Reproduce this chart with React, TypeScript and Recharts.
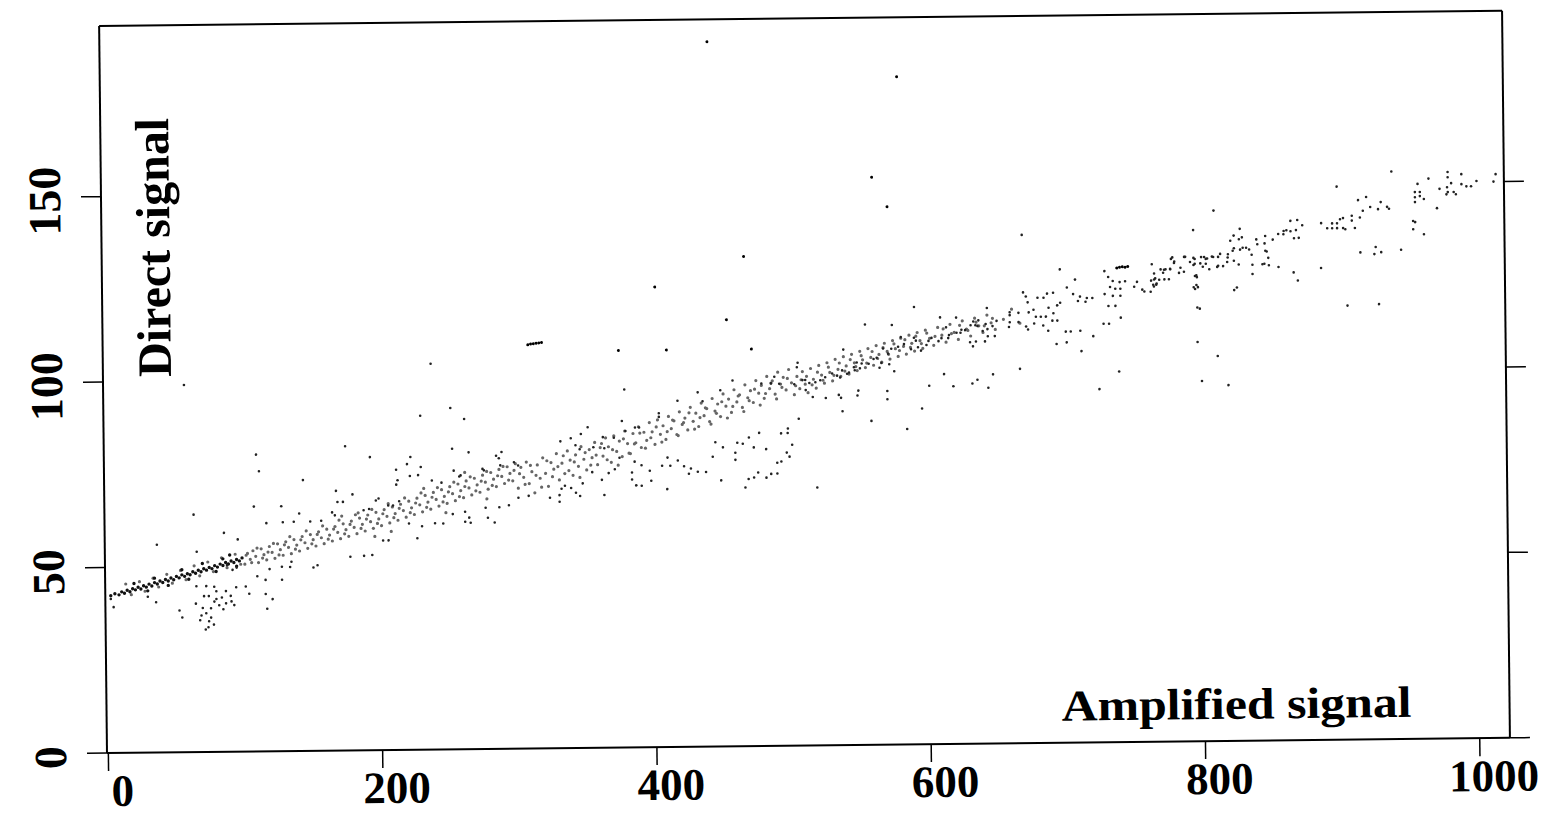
import React from 'react';
import { ScatterChart, Scatter, XAxis, YAxis } from 'recharts';

const xTicks = [0, 200, 400, 600, 800, 1000];
const yTicks = [0, 50, 100, 150];
const xTitle = 'Amplified signal';
const yTitle = 'Direct signal';

// dense dark trace near the origin
const bandA: [number, number][] = [
  [3,42.4],[6,42.9],[9,42.6],[11,43.4],[13,43.0],[15,43.8],[17,43.4],[19,44.2],[21,43.9],[23,44.6],[25,44.1],[27,45.0],[29,44.6],[31,45.4],[33,44.9],[35,45.8],[37,45.4],[39,46.2],[41,45.8],[43,46.6],[45,46.2],[47,47.0],[49,46.5],[51,47.4],[53,47.0],[55,47.8],[57,47.4],[59,48.1],[61,47.8],[63,48.6],[65,48.2],[67,49.0],[69,48.6],[71,49.4],[73,49.0],[75,49.7],[77,49.4],[79,50.2],[81,49.8],[83,50.6],[85,50.2],[87,51.0],[89,50.6],[91,51.4],[93,51.0],[95,51.8],[97,51.4],[99,52.2],
  [20,45.6],[35,47.0],[55,49.2],[70,50.8],[85,52.0],[90,53.0],[30,43.6],[45,45.0],[60,46.6],[80,48.6],[95,50.0],
];

// halftone around the dark trace
const bandA2: [number, number][] = [
  [14,45.5],[18,42.6],[24,46.1],[28,43.5],[34,47.0],[38,44.6],[44,48.0],[48,45.6],[54,49.0],[58,46.5],[64,50.2],[68,47.5],[74,51.2],[78,48.6],[84,52.3],[88,49.6],[94,53.2],[98,50.5],
];

// halftone band 100-300
const bandB: [number, number][] = [
  [101,50.5],[103,53.4],[105,51.8],[107,54.1],[109,52.6],[111,50.9],[113,54.6],[115,53.0],[117,51.6],[119,55.2],[121,53.6],[123,52.0],[125,55.9],[127,54.3],[129,52.8],[131,56.4],[133,54.9],[135,53.2],[137,57.0],[139,55.5],[141,53.9],[143,57.8],[145,56.1],[147,54.6],[149,58.3],[151,56.9],[153,55.2],[155,59.0],[157,57.4],[159,55.8],[161,59.7],[163,58.1],[165,56.5],[167,60.4],[169,58.8],[171,57.1],[173,61.1],[175,59.5],[177,57.7],[179,61.8],[181,60.1],[183,58.4],[185,62.6],[187,60.9],[189,59.1],[191,63.4],[193,61.6],[195,59.8],[197,64.1],[199,62.3],
  [201,60.5],[203,64.8],[205,63.0],[207,61.2],[209,65.5],[211,63.7],[213,61.9],[215,66.2],[217,64.5],[219,62.7],[221,67.0],[223,65.2],[225,63.4],[227,67.8],[229,66.0],[231,64.1],[233,68.5],[235,66.7],[237,64.8],[239,69.3],[241,67.4],[243,65.6],[245,70.0],[247,68.2],[249,66.3],[251,70.8],[253,68.9],[255,67.0],[257,71.5],[259,69.7],[261,67.8],[263,72.3],[265,70.4],[267,68.5],[269,73.0],[271,71.2],[273,69.2],[275,73.8],[277,71.9],[279,70.0],[281,74.5],[283,72.7],[285,70.7],[287,75.3],[289,73.4],[291,71.5],[293,76.0],[295,74.2],[297,72.2],[299,76.8],
  [172,63.2],[184,64.0],[196,57.6],[208,58.9],[232,70.4],[248,63.8],[262,74.6],[278,67.4],
];

const bandB2: [number, number][] = [
  [102,52.9],[106,50.9],[110,54.8],[114,52.1],[118,53.7],[122,56.0],[126,52.9],[130,55.6],[134,57.8],[138,54.4],[142,56.9],[146,59.3],[150,55.8],[154,58.3],[158,60.6],[162,57.0],[166,59.7],[170,62.1],[174,58.4],[178,60.9],[182,63.5],[186,59.8],[190,62.3],[194,64.9],[198,61.1],[202,63.7],[206,66.4],[210,62.6],[214,65.1],[218,67.9],[222,63.9],[226,66.5],[230,69.2],[234,65.3],[238,68.0],[242,70.6],[246,66.7],[250,69.4],[254,72.0],[258,68.1],[262,70.8],[266,73.4],[270,69.6],[274,72.2],[278,74.8],[282,71.0],[286,73.6],[290,76.1],[294,72.4],[298,75.0],
];

// halftone band 300-500
const bandC: [number, number][] = [
  [301,70.2],[303,75.8],[305,73.1],[307,77.2],[309,71.4],[311,74.6],[313,68.9],[315,76.4],[317,72.8],[319,78.3],[321,74.1],[323,70.6],[325,77.0],[327,75.2],[329,79.4],[331,72.3],[333,76.8],[335,74.0],[337,80.1],[339,77.6],[341,73.5],[343,79.0],[345,75.9],[347,81.2],[349,77.8],[351,74.9],[353,80.4],[355,78.2],[357,82.3],[359,76.3],[361,80.9],[363,78.6],[365,83.5],[367,81.1],[369,76.9],[371,84.0],[373,79.8],[375,82.6],[377,78.4],[379,85.3],[381,81.9],[383,79.2],[385,84.6],[387,82.1],[389,86.4],[391,80.8],[393,84.9],[395,82.7],[397,87.5],[399,85.0],
  [401,81.6],[403,88.2],[405,84.3],[407,86.6],[409,82.9],[411,89.1],[413,85.8],[415,87.9],[417,84.2],[419,90.3],[421,86.9],[423,88.6],[425,85.4],[427,91.5],[429,87.7],[431,89.9],[433,86.3],[435,92.6],[437,89.2],[439,91.1],[441,87.6],[443,93.8],[445,90.4],[447,92.3],[449,88.9],[451,95.0],[453,91.7],[455,93.6],[457,90.0],[459,96.1],[461,92.8],[463,94.7],[465,91.3],[467,97.4],[469,93.9],[471,95.8],[473,92.6],[475,98.5],[477,95.1],[479,97.2],[481,93.7],[483,99.6],[485,96.3],[487,98.4],[489,94.8],[491,100.7],[493,97.5],[495,99.3],[497,95.9],[499,101.4],
];

const bandC2: [number, number][] = [
  [302,74.1],[306,71.2],[310,76.3],[314,73.6],[318,70.4],[322,77.5],[326,73.2],[330,75.9],[334,78.8],[338,74.8],[342,77.1],[346,72.9],[350,79.6],[354,76.2],[358,78.9],[362,82.0],[366,77.6],[370,80.3],[374,76.1],[378,83.2],[382,79.3],[386,81.8],[390,84.7],[394,80.6],[398,83.4],[402,86.3],[406,82.2],[410,85.0],[414,88.1],[418,83.9],[422,87.4],[426,90.0],[430,85.6],[434,88.7],[438,91.3],[442,86.9],[446,89.8],[450,92.9],[454,88.5],[458,91.6],[462,94.4],[466,90.2],[470,93.1],[474,96.2],[478,91.9],[482,95.0],[486,97.8],[490,93.5],[494,96.6],[498,99.0],
];

// halftone band 500-670
const bandD: [number, number][] = [
  [501,97.8],[503,94.6],[505,99.5],[507,96.2],[509,100.8],[511,97.4],[513,95.1],[515,101.6],[517,98.7],[519,96.3],[521,102.4],[523,99.8],[525,97.6],[527,103.1],[529,100.5],[531,98.2],[533,104.0],[535,101.3],[537,99.4],[539,104.7],[541,102.2],[543,100.0],[545,105.3],[547,103.0],[549,100.9],[551,106.1],[553,103.8],[555,101.7],[557,106.8],[559,104.4],[561,102.3],[563,107.6],[565,105.2],[567,103.1],[569,108.2],[571,106.0],[573,103.9],[575,108.9],[577,106.7],[579,104.6],[581,109.5],[583,107.3],[585,105.2],[587,110.3],[589,108.1],[591,106.0],[593,111.0],[595,108.8],[597,106.7],[599,111.6],
  [602,109.4],[605,107.5],[608,112.3],[611,110.2],[614,108.3],[617,113.1],[620,110.9],[623,109.0],[626,114.0],[629,111.8],[632,109.9],[635,114.7],[638,112.6],[641,110.8],[644,115.5],[647,113.4],[650,111.6],[656,114.3],[662,117.0],[668,113.2],
];

const bandD2: [number, number][] = [
  [504,97.0],[508,98.6],[512,99.5],[516,97.2],[520,100.6],[524,98.4],[528,101.9],[532,99.7],[536,103.0],[540,100.8],[544,103.9],[548,102.0],[552,104.9],[556,102.9],[560,106.0],[564,104.1],[568,107.0],[572,105.2],[576,108.0],[580,106.2],[584,109.1],[588,107.0],[592,110.0],[596,108.0],[600,110.8],[606,109.9],[612,111.9],[618,110.6],[624,112.8],[630,111.4],[636,113.6],[642,112.6],[648,114.6],
];

// scattered readings below the band near the origin
const lowCluster: [number, number][] = [
  [3,41.5],[5,39.3],[30,42],[36,40.5],[53,38.2],[55,36.3],[65,40],[65.5,44.7],[71,42],[72.5,37.4],[72.7,44.7],[72,33],[74,33.6],[74.5,35.2],[74.5,42],[76,38.7],[78,34.3],[78.5,40.5],[78.5,44.5],[80,43.3],[82,39.5],[87,40],[87,43.3],[90.5,42],[91,40.5],[93,39.5],[94.5,44.3],[101.5,44.5],[104,42.5],[116,42.4],[117,38.4],[121,41],[116,46.2],[128,46.2],[110,47.2],[95,49.6],[88,50.3],[92,49],[119,49.1],[128,49.7],[134,49.6],[135,51],[151,49.4],[154,50],[178,52.2],[188,52.4],[194,52.6],[202,56.5],[206,56.5],[68,35.5],[70,38.8],[84,41.6],[69,36.8],[76,36.2],[80,41.2],[85,38.4],
];

// scattered readings above the band, 0-300
const upperScatter: [number, number][] = [
  [37,56],[64,64],[66,54],[86,59],[96,57.2],[108,66],[128,66],[117,61.5],[129,61.7],[137,61.8],[149,61.8],[157,62],[110,80],[112,75.5],[144,73],[193,79],[168,70],[180,69],[141,64],[165,64.2],[167,63.4],[169,67],[173,67],[175,82],[188,64.7],[192,65],[197,67.3],[199,67.8],[206,65.9],[209.5,65.9],[212,71.5],[212,75.5],[213,72.7],[214,67],[220,77],[222,73.8],[228,74],[222.5,78.9],[230,76.2],[238,72.5],[245,71.9],[253,81],[258,73.5],[254,75.1],[259,73.8],[265,80],[275,75.5],[276,75.1],[285,79],[289,80],[287,78.3],[288,76.4],[298,77.2],[301,76.3],[58,99],[230,90],[262,89],[252,92],[238,104],
];

// scattered readings 200-520
const midScatter: [number, number][] = [
  [227,57],[230.5,60.2],[221,61],[240,61],[246,60.9],[253,63.4],[262,61.3],[266,61],[265,62.4],[262,64],[277,65],[278.6,62.3],[283.5,61],[287,65.1],[294,65.6],[301,67.6],[308.5,68.1],[324,67.5],[331,66.4],[331,68.2],[335,70.7],[332.5,69.9],[339.5,70.1],[343,68.8],[346,67.9],[348,71.3],[355,74.3],[362,72.2],[363.7,68.1],[367,74],[371.5,75],[375,78.1],[384,74.1],[384,72.2],[386,77],[387,70.6],[391,70.5],[391,76],[397,74.5],[398,71.8],[406,75.8],[409.6,69.5],[410,78],[412,75.8],[417.5,77.2],[422,75.6],[425.5,73.6],[427,75],[432,74.1],[438,74],[443,78.1],[445,82],[449,71.7],[450.5,80.6],[459.5,79.1],[459.5,77.2],[461,81.8],[465,81.5],[466.6,69.7],[469,72],[469.5,83.2],[473,80.5],[473,72.4],[476,73.7],[477,84.4],[482,80],[482,72.3],[485.5,73.3],[490,73.4],[490,76.3],[493,84.2],[493,76.6],[497,79],[497.8,84.3],[498,85.5],[499,77.9],[501,81.1],[506,88.1],[519,69.5],
  [332,82.7],[339.6,83.5],[347,84.6],[352,86.4],[346,80.5],[343,81.6],[363,83.7],[371,83.5],[356,81],[364,80.7],[377,88],[379.5,85.3],[386.5,86.2],[389.5,86.2],[404,90],[404,89],[417.7,93.3],[432.5,95.5],[436,93.1],[449,96],[458,98.6],[479,97.7],[486,97.7],[488.5,99.5],[492,97.6],[503,97.4],[505,102],[505.6,103.2],[379,96.5],
];

// scattered readings 500-700
const rightScatter: [number, number][] = [
  [509,98.5],[511,98.5],[514,97.7],[518.4,97.9],[522,98.4],[525.6,99.2],[530.7,100.2],[534.3,99.6],[536.5,99.1],[538,101],[541.6,100.1],[543,100.4],[546.6,101.8],[547.2,101],[548.7,103.1],[551,101.5],[552.3,102.8],[557.4,102.7],[561,104],[563.3,104.3],[565.3,101.6],[566.7,102.9],[572.4,102.5],[576,100.6],[568,106.8],[571.6,105.4],[574,106.7],[579,107.2],[581,109.8],[583.3,107.9],[588.4,106.5],[590.6,109.6],[592,108.8],[593.5,107],[595.7,106.1],[590.9,117.9],[599.7,107.6],[601.2,108.7],[603.4,109.5],[608.5,108.6],[610.7,109.4],[614.1,112.3],[609.8,115],[615.6,109.4],[616.2,110.2],[621.5,114.9],[621.7,110.8],[624.6,110.8],[625.3,111.6],[628,111.5],[631.5,108.2],[632,112.8],[633.6,107.1],[634,113.8],[635.5,112.8],[635.8,108.4],[637,112.6],[637.7,114.1],[640.8,111.2],[642.4,108.4],[643,113.1],[644,117.4],[644.3,111.7],[644.5,109.8],[648,112.5],[649.6,109.8],[651,113.9],[660.6,116.2],[660.6,115.4],[660.6,113.5],[660,112.2],[667,116],[667,113.5],[670.5,121.5],[672.5,120.4],[673.8,118.8],[674.5,116.1],[672.5,112.3],[673.9,111.5],[678,116.8],[678.4,113.1],[679.7,114.9],[681,120],[683.3,114.9],[685,112.5],[685.4,120],[687,114.9],[688,121.1],[688.6,111.1],[689,117.3],[692.4,121.3],[692.5,115.8],[691.7,113.8],[695.3,117.9],[695.3,113.8],[694.6,107.5],[697.5,118.6],[697.5,127.6],[670,137],
  [511.3,95.8],[516.4,93.9],[525.9,93.6],[535.4,94.4],[537,93.6],[549.7,95.5],[549,94.2],[570.8,95.3],[570.8,93.1],[601.4,96.6],[612.3,99.7],[619,96.4],[632.9,97.1],[636.6,98.1],[644.5,95.9],[648,99.5],[667.7,100.9],[538,90],[559,87.3],[596,90.5],[585,85],
  [539,106.6],[555,113.3],[574.6,113.1],
];

// scattered readings 700-1020
const farScatter: [number, number][] = [
  [702,107.9],[701.4,110.8],[705,110.8],[702.5,122.7],[707,120.9],[708.5,124.8],[710.5,119],[712,120.2],[712,111],[712.7,105.5],[716,118.8],[717,119.8],[721,119.8],[721.4,109.5],[725.5,95.2],[729,112.8],[730,127],[730,120.8],[732.7,125.4],[732.7,117.6],[733,112.8],[734,122.7],[736,124.3],[736,120.3],[737.8,122.2],[737.8,117.6],[740,99.9],[741,124],[741.5,122.2],[741.5,120.3],[741.6,114.4],[745,124.2],[751.6,122.7],[753.7,124],[757.5,121.9],[759,121.4],[763.6,121.3],[764.6,128.7],[764,124.3],[765.5,123.2],[766,122.7],[766.2,126.2],[766.2,124.6],[767,124.9],[767.7,123.2],[768,123.5],[769.9,124.5],[771,127.3],[772.8,126.4],[773.5,127.2],[773.7,124.6],[774.6,127.3],[777,124.6],[777.9,127.4],[778,127.3],[778.6,130.1],[779.6,130.5],[780.8,129],[781,129.4],[784.4,126.3],[785.5,127.7],[788,126.6],[788.2,130.6],[789,130.6],[792.5,129.2],[795,130.3],[795,128.4],[795,137.8],[795.9,130],[795.9,128.7],[796,125.4],[796,121.9],[797,125.6],[795,122.4],[797,123],[797.4,125.1],[797.4,107.6],[797.5,116.9],[798.1,122.4],[799.3,116.6],[800,128.8],[800.3,97.1],[800.6,130.5],[801.8,127.9],[802.8,130.5],[804,130],[804,128.7],[805,130.1],[806.5,127.2],[808.5,130.6],[809.4,130.5],[810,143],[812,103.8],[812.3,127.8],[813,128.1],[813,130.5],[814.5,131.3],[816.6,128],[819.6,95.9],[819.6,129.1],[820,130.3],[820.2,131.2],[822,134.8],[823.7,132.1],[824.5,121.5],[824.5,136.2],[824.5,129.4],[824.6,132.8],[826.5,122.2],[828,128.4],[828.3,135.2],[829,138],[829.1,132.4],[830.5,135.7],[831,132.9],[833.5,132.9],[835.7,132.4],[837.5,131],[838,128.3],[838,125.8],[841,135.1],[841.7,133.8],[845.3,128.4],[846.7,128.5],[847,134],[847.5,136],[847.5,132],[848.5,131.8],[849.6,130.1],[850,128.1],[853,135],[857,136.5],[857,127.6],[860.8,136.4],[861,137.3],[863,137.5],[866,137.2],[866,140],[868,126.1],[868.5,135.3],[870,137.5],[871,140.2],[871,123.9],[872,135.4],[874.6,138.8],[888,127.2],[888.4,139.3],[892.8,137.9],[896.4,137.9],[896.4,139.2],[900,137.9],[900,139.2],[900,149.1],[902.2,140.3],[904.4,137.9],[904.4,140.6],[906,137.6],[907,117],[910.8,141.2],[910.8,139.9],[913,137.9],[915.5,145.4],[916.7,140.7],[916.8,131.3],[918.9,142.5],[921.4,146.2],[924.3,143.5],[927,130.8],[928,132.7],[930,142.9],[930,117.3],[932,144.8],[932,131.3],[936.6,143.5],[938,143],[940,153],[946.5,131.9],[955.5,139.6],[955.5,137.4],[957,139.3],[957,147.4],[957,146],[957,144.7],[959,149.6],[960.6,147.4],[960.6,146.3],[963.3,136],[963.5,145.5],[967,151],[973,143],[975,148.2],[980,146.7],[980.5,148.6],[981,152.7],[981,151.3],[981,147.3],[983.5,149.7],[985.3,147.3],[986.9,146.7],[991,152.1],[991,149.4],[994.6,148.8],[998,148.8],[1002,150.2],[1014.4,150],[1016,152],
];

// isolated outliers and the two dark dashes
const outliers: [number, number][] = [
  [442,190],[580,180],[561,153],[572,145],[467,132],[402,124],[375,107],[410,107],[472,107],[454,115],
  [309,108.8],[311,109],[313,109.1],[315,109.2],[317,109.3],[319,109.4],
  [739,127.8],[741,128],[743,128.1],[745,128],[747,128.2],
];

const toPts = (a: [number, number][]) => a.map(([x, y]) => ({ x, y }));

const FONT = "'Liberation Serif', 'Times New Roman', serif";

const XTick = (props: any) => {
  const { x, y, payload } = props;
  return (
    <text x={x + 14} y={y + 33} textAnchor="middle" fontFamily={FONT} fontWeight={700} fontSize={45} fill="#000">
      {payload.value}
    </text>
  );
};

const YTick = (props: any) => {
  const { x, y, payload } = props;
  return (
    <text transform={`translate(${x - 19},${y + 4}) rotate(-90)`} textAnchor="middle" fontFamily={FONT} fontWeight={700} fontSize={46} fill="#000">
      {payload.value}
    </text>
  );
};

const NoTick = () => <g />;

const makeDot = (r: number, fill: string) => (props: any) => (
  <circle cx={props.cx} cy={props.cy} r={r} fill={fill} />
);

const bandDot = makeDot(1.6, '#666');
const scatDot = makeDot(1.3, '#222');

export default function App() {
  return (
    <div style={{ position: 'absolute', left: 0, top: 0, width: 1557, height: 817, overflow: 'hidden', background: '#fff' }}>
      <div style={{ position: 'absolute', left: 0, top: 0, width: 1557, height: 817, transform: 'rotate(-0.62deg)', transformOrigin: '107px 753px' }}>
        <ScatterChart width={1557} height={817} margin={{ top: 25, right: 7, bottom: 4, left: 7 }}>
          <XAxis xAxisId="top" orientation="top" type="number" dataKey="x" domain={[-1, 1022]} height={1}
            tick={false} tickLine={false} axisLine={{ stroke: '#000', strokeWidth: 2 }} allowDataOverflow />
          <XAxis type="number" dataKey="x" domain={[-1, 1022]} ticks={xTicks} interval={0} height={60} tickSize={18}
            tick={<XTick />} tickLine={{ stroke: '#000', strokeWidth: 1.5 }} axisLine={{ stroke: '#000', strokeWidth: 2 }} allowDataOverflow />
          <YAxis type="number" dataKey="y" domain={[0, 196]} ticks={yTicks} interval={0} width={100} tickSize={20}
            tick={<YTick />} tickLine={{ stroke: '#000', strokeWidth: 1.5 }} axisLine={{ stroke: '#000', strokeWidth: 2 }} allowDataOverflow />
          <YAxis yAxisId="right" orientation="right" type="number" dataKey="y" domain={[0, 196]} ticks={yTicks} interval={0} width={40} tickSize={20}
            tick={<NoTick />} tickLine={{ stroke: '#000', strokeWidth: 1.5 }} axisLine={{ stroke: '#000', strokeWidth: 2 }} allowDataOverflow />
          <Scatter data={toPts(bandA2)} isAnimationActive={false} shape={bandDot} />
          <Scatter data={toPts(bandB)} isAnimationActive={false} shape={bandDot} />
          <Scatter data={toPts(bandB2)} isAnimationActive={false} shape={bandDot} />
          <Scatter data={toPts(bandC)} isAnimationActive={false} shape={bandDot} />
          <Scatter data={toPts(bandC2)} isAnimationActive={false} shape={bandDot} />
          <Scatter data={toPts(bandD)} isAnimationActive={false} shape={bandDot} />
          <Scatter data={toPts(bandD2)} isAnimationActive={false} shape={bandDot} />
          <Scatter data={toPts(bandA)} isAnimationActive={false} shape={makeDot(1.7, '#111')} />
          <Scatter data={toPts(lowCluster)} isAnimationActive={false} shape={scatDot} />
          <Scatter data={toPts(upperScatter)} isAnimationActive={false} shape={scatDot} />
          <Scatter data={toPts(midScatter)} isAnimationActive={false} shape={scatDot} />
          <Scatter data={toPts(rightScatter)} isAnimationActive={false} shape={scatDot} />
          <Scatter data={toPts(farScatter)} isAnimationActive={false} shape={scatDot} />
          <Scatter data={toPts(outliers)} isAnimationActive={false} shape={makeDot(1.5, '#000')} />
        </ScatterChart>
        <svg width={1557} height={817} style={{ position: 'absolute', left: 0, top: 0, pointerEvents: 'none' }}>
          <text x={1062} y={731} fontFamily={FONT} fontWeight={700} fontSize={44} fill="#000"
            textLength={350} lengthAdjust="spacingAndGlyphs">{xTitle}</text>
          <text transform="translate(175,248) rotate(-90)" textAnchor="middle" fontFamily={FONT} fontWeight={700}
            fontSize={48} fill="#000" textLength={259} lengthAdjust="spacingAndGlyphs">{yTitle}</text>
        </svg>
      </div>
    </div>
  );
}
